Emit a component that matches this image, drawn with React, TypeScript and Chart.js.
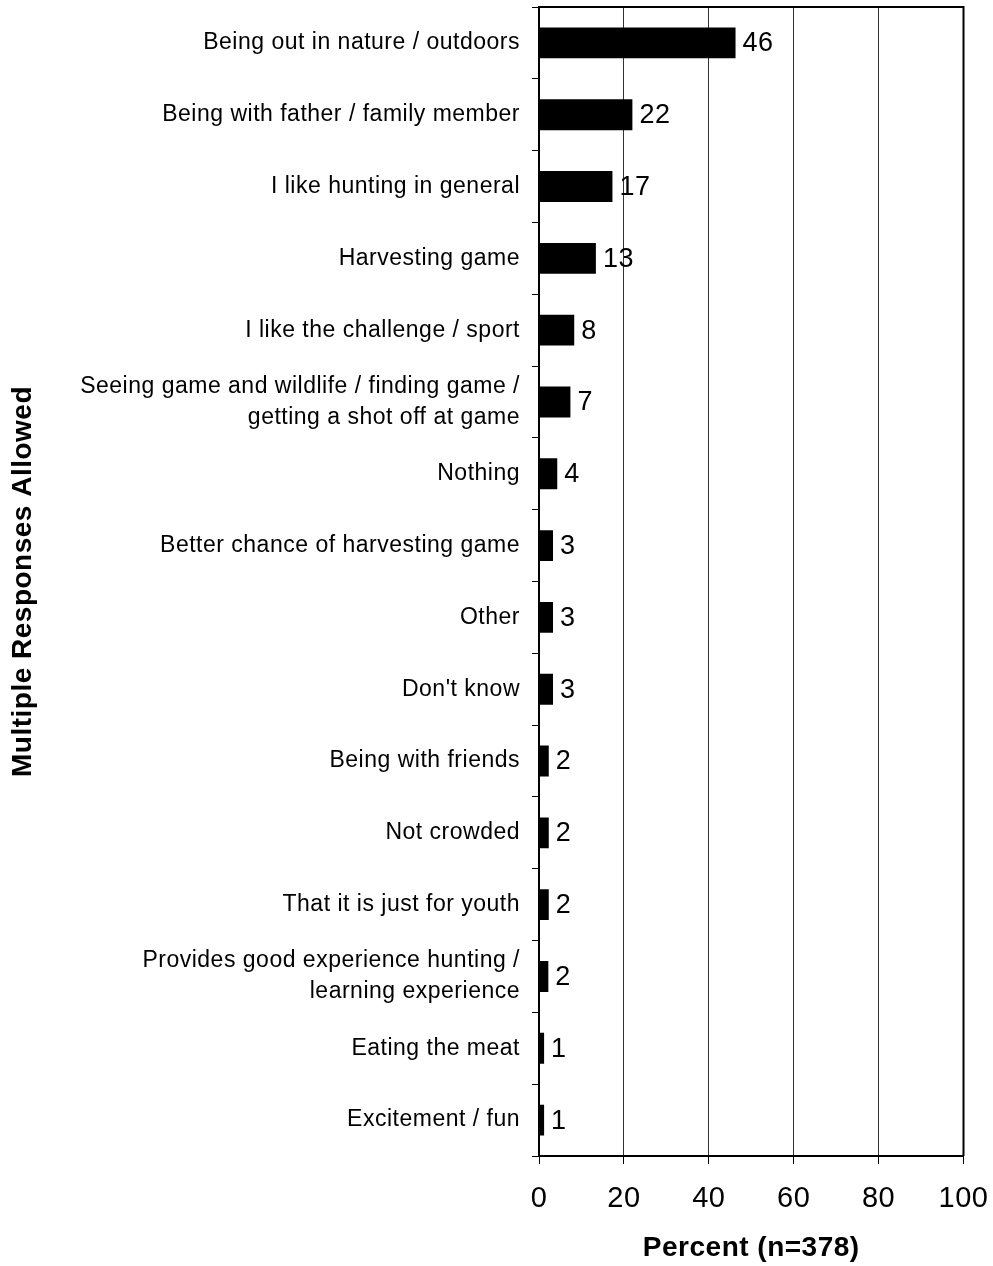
import React, { useEffect, useRef } from "react";
import { Chart, registerables } from "chart.js";

Chart.register(...registerables);

const categories: (string | string[])[] = [
  "Being out in nature / outdoors",
  "Being with father / family member",
  "I like hunting in general",
  "Harvesting game",
  "I like the challenge / sport",
  ["Seeing game and wildlife / finding game /", "getting a shot off at game"],
  "Nothing",
  "Better chance of harvesting game",
  "Other",
  "Don't know",
  "Being with friends",
  "Not crowded",
  "That it is just for youth",
  ["Provides good experience hunting /", "learning experience"],
  "Eating the meat",
  "Excitement / fun",
];

const values: number[] = [46.3, 22.0, 17.3, 13.4, 8.3, 7.4, 4.3, 3.3, 3.3, 3.3, 2.3, 2.3, 2.3, 2.2, 1.2, 1.2];

const xTicks: number[] = [0, 20, 40, 60, 80, 100];

const xTitle = "Percent (n=378)";
const yTitle = "Multiple Responses Allowed";

const FONT = "'Liberation Sans', Arial, sans-serif";
const SPACING = "0.5px";

const spacingPlugin = {
  id: "spacing",
  beforeUpdate(chart: any) {
    chart.ctx.letterSpacing = SPACING;
  },
  beforeDraw(chart: any) {
    chart.ctx.letterSpacing = SPACING;
  },
};

const frameAndLabels = {
  id: "frameAndLabels",
  afterDatasetsDraw(chart: any) {
    const { ctx, chartArea } = chart;
    ctx.save();
    ctx.strokeStyle = "#000";
    ctx.lineWidth = 2;
    ctx.beginPath();
    ctx.moveTo(chartArea.left, chartArea.top);
    ctx.lineTo(chartArea.right, chartArea.top);
    ctx.lineTo(chartArea.right, chartArea.bottom);
    ctx.stroke();

    const meta = chart.getDatasetMeta(0);
    ctx.fillStyle = "#000";
    ctx.font = `27px ${FONT}`;
    ctx.textAlign = "left";
    ctx.textBaseline = "middle";
    meta.data.forEach((bar: any, i: number) => {
      const v = chart.data.datasets[0].data[i] as number;
      ctx.fillText(String(Math.round(v)), bar.x + 7, bar.y + 1);
    });
    ctx.restore();
  },
};

function zeroPad(scale: any) {
  scale.paddingTop = 0;
  scale.paddingBottom = 0;
  scale.paddingLeft = 0;
  scale.paddingRight = 0;
}

export default function App() {
  const canvasRef = useRef<HTMLCanvasElement>(null);

  useEffect(() => {
    document.body.style.margin = "0";
    const canvas = canvasRef.current!;
    const chart = new Chart(canvas, {
      type: "bar",
      data: {
        labels: categories,
        datasets: [
          {
            data: values,
            backgroundColor: "#000",
            borderWidth: 0,
            barPercentage: 0.43,
            categoryPercentage: 1,
          },
        ],
      },
      options: {
        indexAxis: "y",
        responsive: false,
        animation: false,
        devicePixelRatio: 1,
        layout: { padding: { top: 7, right: 29.5, left: 0, bottom: 0 } },
        plugins: {
          legend: { display: false },
          tooltip: { enabled: false },
        },
        scales: {
          x: {
            type: "linear",
            min: 0,
            max: 100,
            afterBuildTicks(scale: any) {
              scale.ticks = xTicks.map((v) => ({ value: v }));
            },
            afterFit(scale: any) {
              scale.height = 110;
              zeroPad(scale);
            },
            grid: {
              color: "#333",
              lineWidth: 1,
              drawTicks: true,
              tickLength: 8,
              tickColor: "#000",
            },
            border: { display: true, color: "#000", width: 2 },
            ticks: {
              color: "#000",
              font: { family: FONT, size: 29 },
              padding: 18,
              maxRotation: 0,
            },
            title: {
              display: true,
              text: xTitle,
              color: "#000",
              font: { family: FONT, size: 28, weight: "bold" },
              padding: { top: 0, bottom: 1 },
            },
          },
          y: {
            type: "category",
            afterFit(scale: any) {
              scale.width = 539;
              zeroPad(scale);
            },
            grid: {
              offset: true,
              drawOnChartArea: false,
              drawTicks: true,
              tickLength: 7,
              color: "#000",
              lineWidth: 1,
            },
            border: { display: true, color: "#000", width: 2 },
            ticks: {
              color: "#000",
              font: { family: FONT, size: 23, lineHeight: 1.35 },
              padding: 12,
              autoSkip: false,
            },
            title: {
              display: true,
              text: yTitle,
              color: "#000",
              font: { family: FONT, size: 28, weight: "bold" },
              padding: { top: 6, bottom: 0 },
            },
          },
        },
      },
      plugins: [spacingPlugin, frameAndLabels],
    });
    return () => chart.destroy();
  }, []);

  return (
    <div style={{ width: 993, height: 1266 }}>
      <canvas ref={canvasRef} width={993} height={1266} style={{ display: "block" }} />
    </div>
  );
}
